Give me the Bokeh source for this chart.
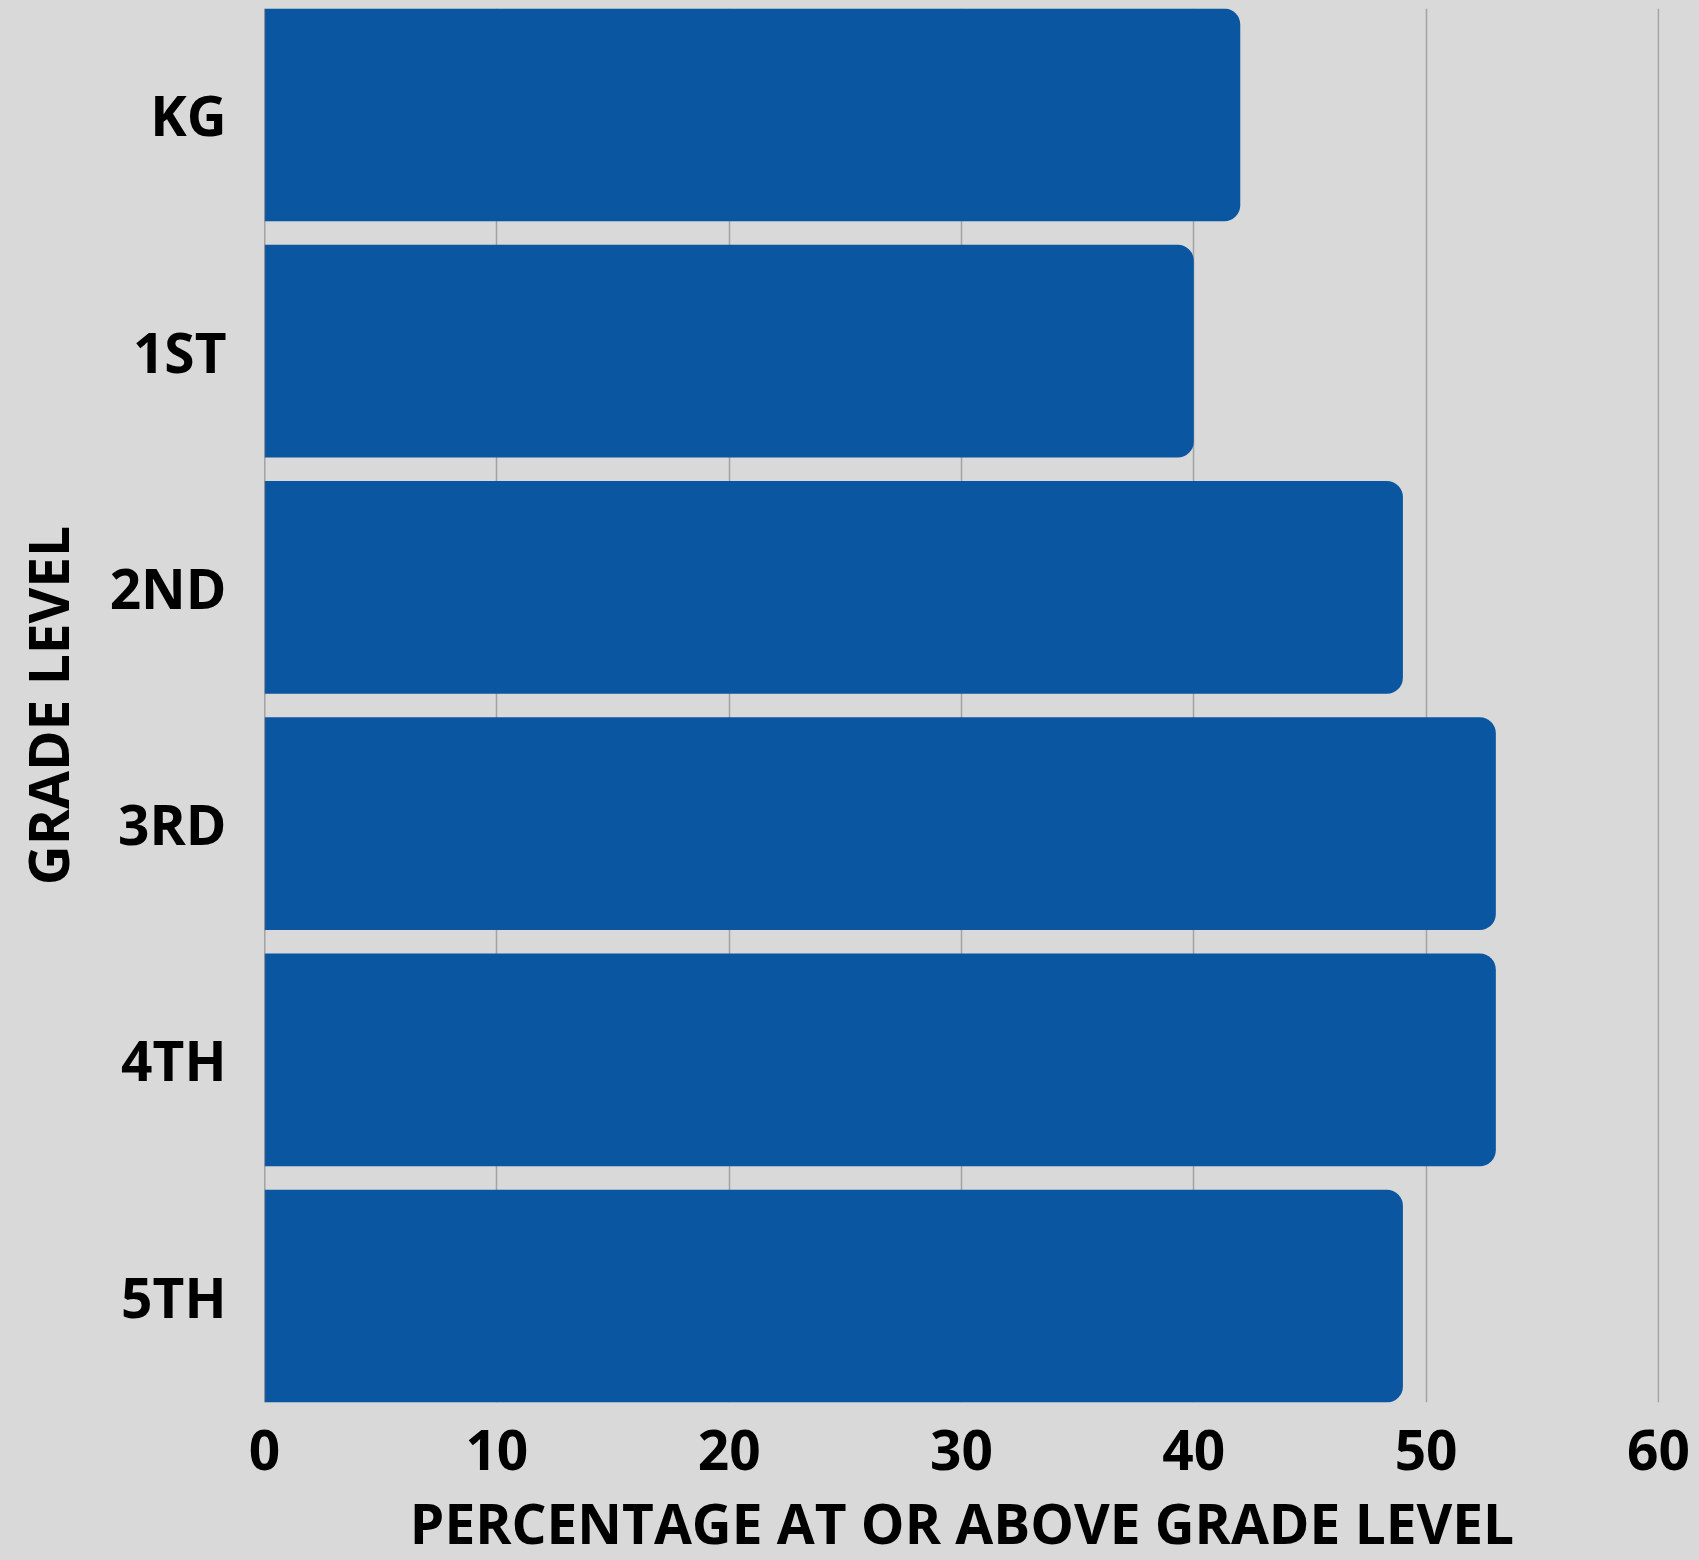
from bokeh.plotting import figure
from bokeh.models import FactorRange, Range1d, FixedTicker, Span
from bokeh.embed import file_html
from bokeh.resources import INLINE

grades = ["KG", "1ST", "2ND", "3RD", "4TH", "5TH"]
percent = [42, 40, 49, 53, 53, 49]
x_ticks = [0, 10, 20, 30, 40, 50, 60]

BG = "#D9D9D9"
BAR = "#0A56A1"
FONT = "Open Sans"

factors = list(reversed(grades))

p = figure(
    y_range=FactorRange(factors=factors, range_padding=-0.05, range_padding_units="absolute"),
    x_range=Range1d(0, 60.045),
    frame_width=1395, frame_height=1394,
    min_border_left=264, min_border_top=8, min_border_right=40, min_border_bottom=0,
    output_backend="svg", toolbar_location=None,
    background_fill_color=BG, border_fill_color=BG,
)
p.outline_line_color = None

p.hbar(y=grades, right=percent, left=0, height=0.9, fill_color=BAR, line_color=None,
       border_radius=(0, 16, 16, 0))

p.add_layout(Span(location=0, dimension="height", line_color="#6E6E6E", line_width=1.5), "center")

p.xgrid.ticker = FixedTicker(ticks=x_ticks)
p.xgrid.grid_line_color = "#A3A3A3"
p.xgrid.grid_line_width = 1.5
p.ygrid.grid_line_color = None

p.xaxis.ticker = FixedTicker(ticks=x_ticks)
p.xaxis.axis_label = "PERCENTAGE AT OR ABOVE GRADE LEVEL"
p.yaxis.axis_label = "GRADE LEVEL"

for ax in (p.xaxis[0], p.yaxis[0]):
    ax.axis_line_color = None
    ax.major_tick_line_color = None
    ax.minor_tick_line_color = None
    ax.major_tick_out = 0
    ax.major_tick_in = 0
    ax.major_label_text_font = FONT
    ax.major_label_text_font_style = "bold"
    ax.major_label_text_font_size = "55px"
    ax.major_label_text_color = "black"
    ax.axis_label_text_font = FONT
    ax.axis_label_text_font_style = "bold"
    ax.axis_label_text_font_size = "55px"
    ax.axis_label_text_color = "black"

p.xaxis.major_label_standoff = 27
p.xaxis.axis_label_standoff = 12
p.yaxis.major_label_standoff = 38
p.yaxis.axis_label_standoff = 22

html = file_html(p, INLINE)
html = html.replace("<head>", "<head><style>html,body{background:#D9D9D9;overflow:hidden;}</style>", 1)
open("out.html", "w").write(html)
